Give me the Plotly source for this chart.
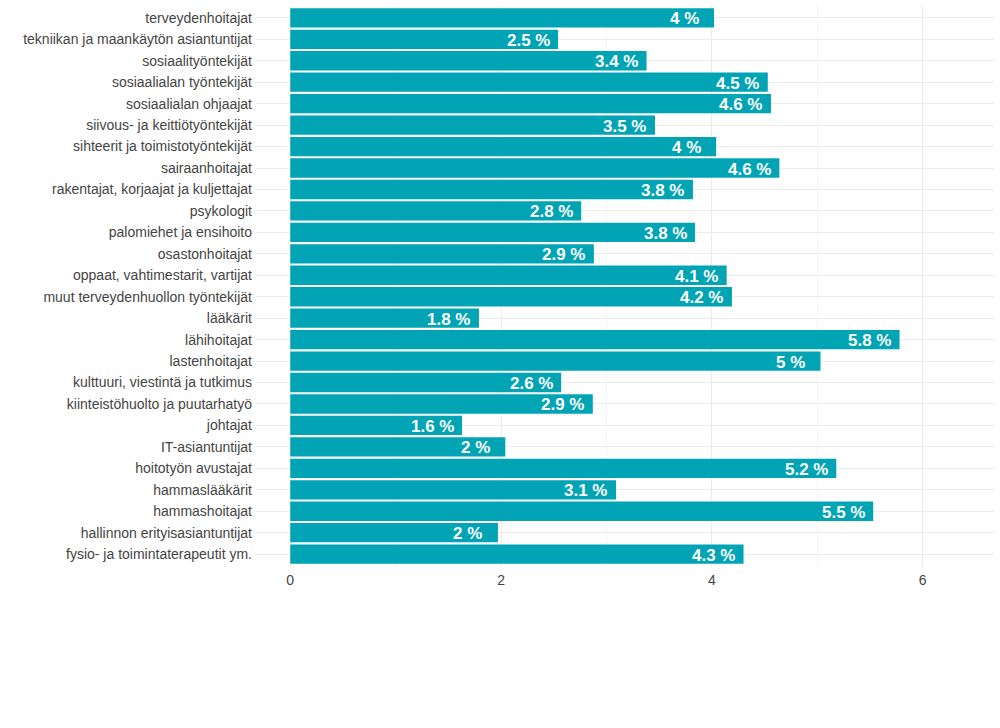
import plotly.graph_objects as go

# Categories listed top-to-bottom as they appear in the chart
categories = [
    "terveydenhoitajat",
    "tekniikan ja maankäytön asiantuntijat",
    "sosiaalityöntekijät",
    "sosiaalialan työntekijät",
    "sosiaalialan ohjaajat",
    "siivous- ja keittiötyöntekijät",
    "sihteerit ja toimistotyöntekijät",
    "sairaanhoitajat",
    "rakentajat, korjaajat ja kuljettajat",
    "psykologit",
    "palomiehet ja ensihoito",
    "osastonhoitajat",
    "oppaat, vahtimestarit, vartijat",
    "muut terveydenhuollon työntekijät",
    "lääkärit",
    "lähihoitajat",
    "lastenhoitajat",
    "kulttuuri, viestintä ja tutkimus",
    "kiinteistöhuolto ja puutarhatyö",
    "johtajat",
    "IT-asiantuntijat",
    "hoitotyön avustajat",
    "hammaslääkärit",
    "hammashoitajat",
    "hallinnon erityisasiantuntijat",
    "fysio- ja toimintaterapeutit ym.",
]

values = [
    4.02, 2.54, 3.38, 4.53, 4.56, 3.46, 4.04, 4.64, 3.82, 2.76,
    3.84, 2.88, 4.14, 4.19, 1.79, 5.78, 5.03, 2.57, 2.87, 1.63,
    2.04, 5.18, 3.09, 5.53, 1.97, 4.30,
]

labels = [
    "4", "2.5", "3.4", "4.5", "4.6", "3.5", "4", "4.6", "3.8", "2.8",
    "3.8", "2.9", "4.1", "4.2", "1.8", "5.8", "5", "2.6", "2.9", "1.6",
    "2", "5.2", "3.1", "5.5", "2", "4.3",
]

x_ticks = [0, 2, 4, 6]

BAR_COLOR = "#01A4B5"
FONT = "Liberation Sans, Arial, sans-serif"

fig = go.Figure()
fig.add_trace(go.Bar(
    x=values,
    y=categories,
    orientation="h",
    marker=dict(color=BAR_COLOR, line=dict(width=0)),
    width=0.9,
    hoverinfo="x+y",
))

for v, c, lab in zip(values, categories, labels):
    fig.add_annotation(
        x=v, y=c, text=f"<b>{lab} %</b>", showarrow=False,
        xanchor="center", yanchor="middle", xshift=-30, yshift=-1,
        font=dict(family=FONT, size=17, color="white"),
    )

fig.update_layout(
    width=1000, height=728,
    margin=dict(l=256, r=6, t=5, b=161, autoexpand=False),
    paper_bgcolor="white", plot_bgcolor="white",
    showlegend=False,
    bargap=0.1,
    font=dict(family=FONT, size=14, color="#444444"),
)

fig.update_xaxes(
    range=[-0.325, 6.676],
    tickvals=x_ticks,
    ticktext=[str(t) for t in x_ticks],
    showgrid=True, gridcolor="#EBEBEB", gridwidth=1,
    minor=dict(dtick=1, tick0=0, showgrid=True, gridcolor="#F3F3F3", gridwidth=1),
    zeroline=False, showline=False,
    ticks="", ticklabelstandoff=3,
    tickfont=dict(family=FONT, size=14, color="#444444"),
    fixedrange=True,
)

fig.update_yaxes(
    type="category",
    categoryorder="array",
    categoryarray=list(reversed(categories)),
    range=[-0.6, len(categories) - 0.4],
    showgrid=True, gridcolor="#EBEBEB", gridwidth=1,
    zeroline=False, showline=False,
    ticks="", ticklabelstandoff=3,
    tickfont=dict(family=FONT, size=14, color="#444444"),
    fixedrange=True,
)

fig.write_html(
    "out.html",
    config={"displayModeBar": False},
    post_script="document.body.style.margin='0';document.body.style.padding='0';",
)
